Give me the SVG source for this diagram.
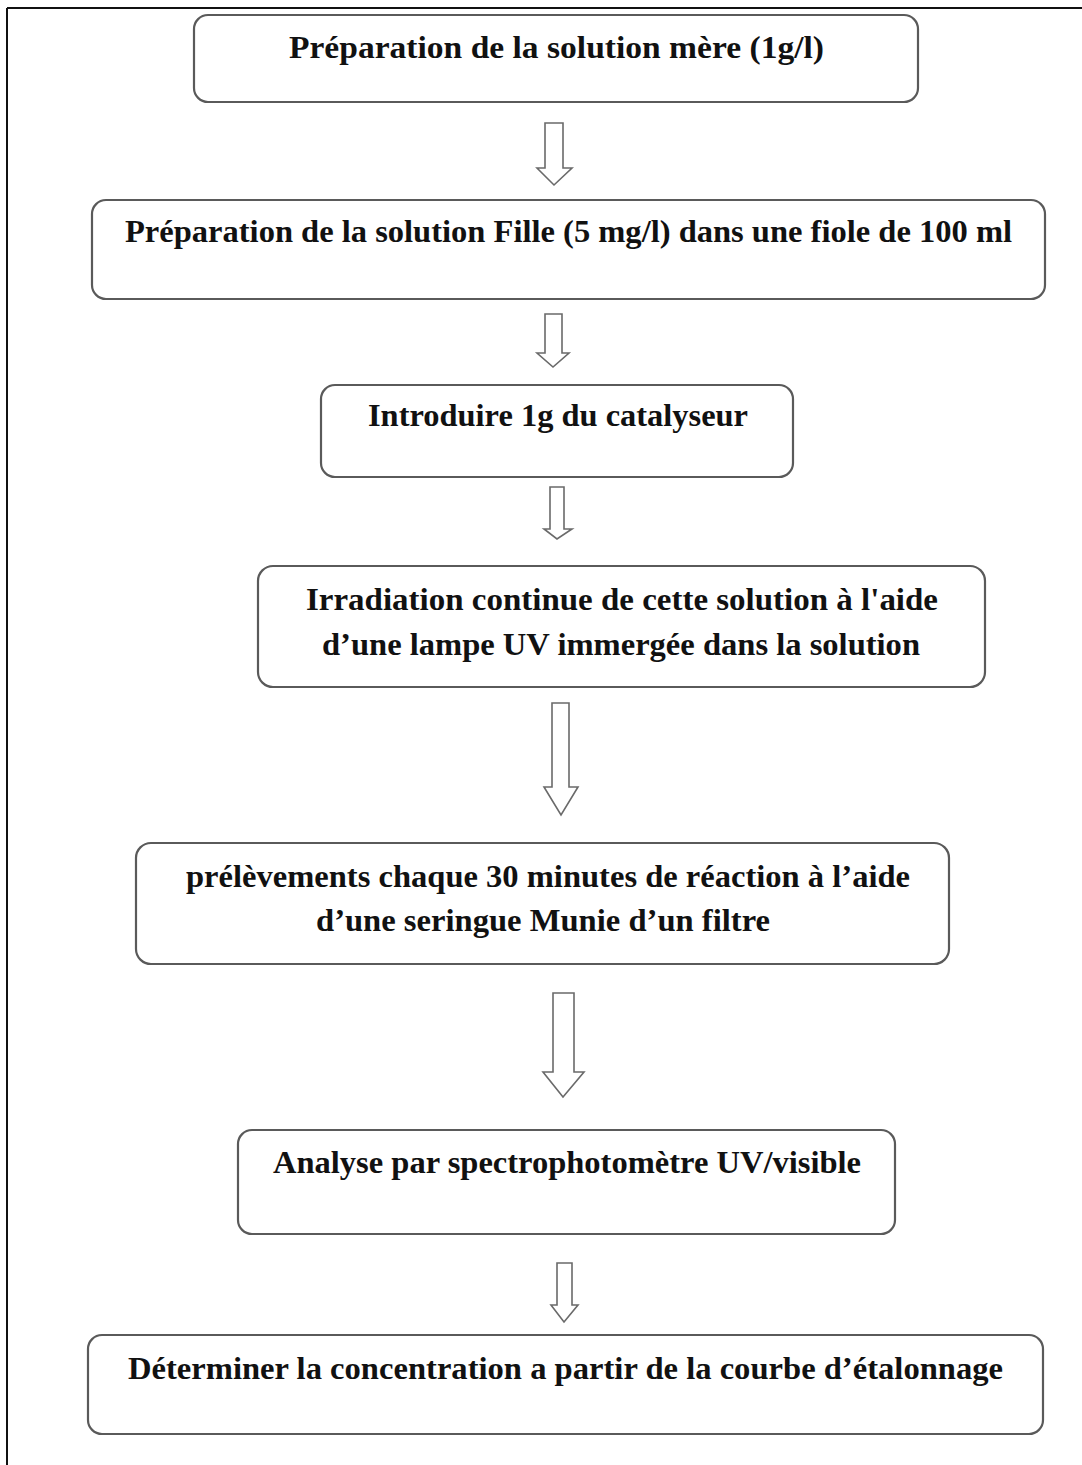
<svg xmlns="http://www.w3.org/2000/svg" width="1082" height="1465" viewBox="0 0 1082 1465">
<style>
.box{fill:#fff;stroke:#5a5a5a;stroke-width:2.2}
.arr{fill:#fff;stroke:#6a6a6a;stroke-width:1.6;stroke-linejoin:miter}
.t{font-family:"Liberation Serif","Times New Roman",serif;font-weight:bold;font-size:32px;fill:#111}
</style>
<rect width="1082" height="1465" fill="#fff"/>
<g id="frame">
<line x1="7" y1="8" x2="1082" y2="8" stroke="#111" stroke-width="2"/>
<line x1="7" y1="8" x2="7" y2="1465" stroke="#111" stroke-width="2"/>
</g>
<g id="connectors">
<polygon class="arr" points="545,123 563,123 563,168 572,168 554,185 537,168 545,168"/>
<polygon class="arr" points="545,314 562,314 562,353 569,353 553,367 537,353 545,353"/>
<polygon class="arr" points="550,487 564,487 564,529 572,529 557,539 544,529 550,529"/>
<polygon class="arr" points="552,703 569,703 569,787 578,787 561,815 544,787 552,787"/>
<polygon class="arr" points="553,993 574,993 574,1072 584,1072 563,1097 543,1072 553,1072"/>
<polygon class="arr" points="557,1263 572,1263 572,1305 578,1305 564,1322 551,1305 557,1305"/>
</g>
<g id="n1">
<rect class="box" x="194" y="15" width="724" height="87" rx="14"/>
<text class="t" x="289" y="58" textLength="535" lengthAdjust="spacingAndGlyphs">Préparation de la solution  mère  (1g/l)</text>
</g>
<g id="n2">
<rect class="box" x="92" y="200" width="953" height="99" rx="14"/>
<text class="t" x="125" y="242" textLength="887" lengthAdjust="spacingAndGlyphs">Préparation de la solution Fille (5 mg/l) dans une fiole de 100 ml</text>
</g>
<g id="n3">
<rect class="box" x="321" y="385" width="472" height="92" rx="14"/>
<text class="t" x="368" y="426" textLength="380" lengthAdjust="spacingAndGlyphs">Introduire 1g du catalyseur</text>
</g>
<g id="n4">
<rect class="box" x="258" y="566" width="727" height="121" rx="15"/>
<text class="t" x="306" y="610" textLength="632" lengthAdjust="spacingAndGlyphs">Irradiation continue de cette solution  à l'aide</text>
<text class="t" x="322" y="655" textLength="598" lengthAdjust="spacingAndGlyphs">d’une lampe UV immergée dans la solution</text>
</g>
<g id="n5">
<rect class="box" x="136" y="843" width="813" height="121" rx="15"/>
<text class="t" x="186" y="887" textLength="724" lengthAdjust="spacingAndGlyphs">prélèvements chaque 30 minutes de réaction à l’aide</text>
<text class="t" x="316" y="931" textLength="454" lengthAdjust="spacingAndGlyphs">d’une seringue Munie d’un filtre</text>
</g>
<g id="n6">
<rect class="box" x="238" y="1130" width="657" height="104" rx="14"/>
<text class="t" x="273" y="1173" textLength="588" lengthAdjust="spacingAndGlyphs">Analyse par spectrophotomètre UV/visible</text>
</g>
<g id="n7">
<rect class="box" x="88" y="1335" width="955" height="99" rx="14"/>
<text class="t" x="128" y="1379" textLength="875" lengthAdjust="spacingAndGlyphs">Déterminer la concentration a partir de la courbe d’étalonnage</text>
</g>
</svg>
